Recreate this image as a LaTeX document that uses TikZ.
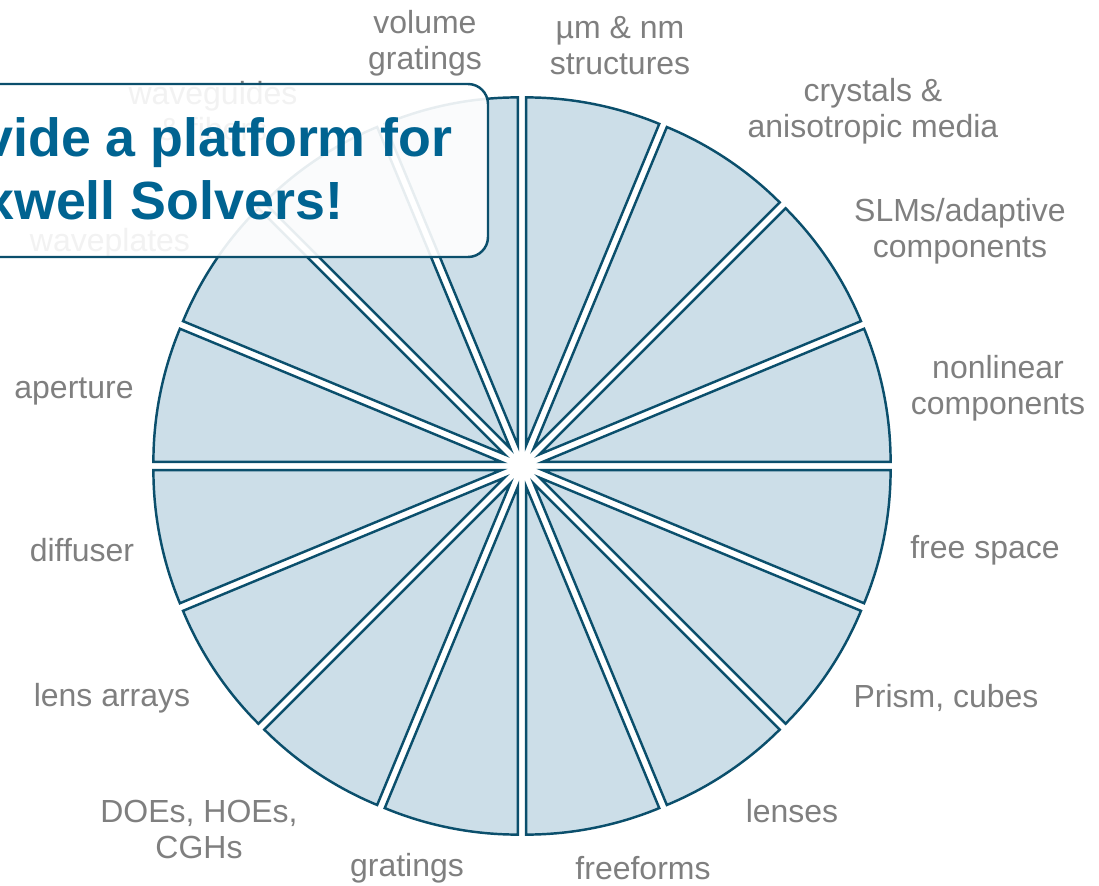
\documentclass[tikz,border=0pt]{standalone}
\usepackage{fontspec}
\setmainfont{Liberation Sans}
\usetikzlibrary{positioning,calc}
\definecolor{petrol}{HTML}{0B4F6C}
\definecolor{iceblue}{HTML}{CCDEE8}
\definecolor{labelgray}{HTML}{7F7F7F}
\definecolor{ocean}{HTML}{006391}
\tikzset{
  sector/.style={draw=petrol, fill=iceblue, line width=1.4pt},
  itemlabel/.style={
    font=\fontsize{18.2}{20.5}\selectfont, text=labelgray,
    align=center, inner sep=0pt
  },
  calloutbox/.style={
    rectangle, rounded corners=0.4cm, draw=petrol, line width=1.4pt,
    fill=white, fill opacity=0.9,
    minimum width=10.16cm, minimum height=3.46cm
  },
  callouttext/.style={
    font=\fontsize{30.6}{36}\selectfont\bfseries, text=ocean,
    inner sep=0pt, anchor=base west
  },
}

\begin{document}
\begin{tikzpicture}
\clip (-10.44,-8.38) rectangle (11.54,9.32);
\useasboundingbox (-10.44,-8.38) rectangle (11.54,9.32);
% exploded wheel, 16 sectors
\foreach \a in {0,22.5,...,337.5}{
  \pgfmathsetmacro\b{\a+11.25}
  \draw[sector] (\b:0.42) -- ++(\a:6.96)
    arc[start angle=\a, end angle=\a+22.5, radius=6.96] -- cycle;
}
% labels, counter-clockwise from the right
\node[itemlabel] (nonlin)   at (9.52,1.56)   {nonlinear\\components};
\node[itemlabel] (slm)      at (8.76,4.70)   {SLMs/adaptive\\components};
\node[itemlabel] (crystal)  at (7.02,7.10)   {crystals \&\\anisotropic media};
\node[itemlabel] (micro)    at (1.96,8.40)   {µm \& nm\\structures};
\node[itemlabel] (volgrat)  at (-1.94,8.46)  {volume\\gratings};
\node[itemlabel] (wguide)   at (-6.18,7.10)  {waveguides\\\& fibers};
\node[itemlabel] (wplate)   at (-8.24,4.46)  {waveplates};
\node[itemlabel] (aperture) at (-8.96,1.50)  {aperture};
\node[itemlabel] (diffuser) at (-8.80,-1.68) {diffuser};
\node[itemlabel] (lensarr)  at (-8.20,-4.64) {lens arrays};
\node[itemlabel] (doe)      at (-6.46,-7.26) {DOEs, HOEs,\\CGHs};
\node[itemlabel] (grating)  at (-2.30,-8.04) {gratings};
\node[itemlabel] (freeform) at (2.42,-8.04)  {freeforms};
\node[itemlabel] (lenses)   at (5.40,-6.90)  {lenses};
\node[itemlabel] (prism)    at (8.48,-4.64)  {Prism, cubes};
\node[itemlabel] (freesp)   at (9.26,-1.68)  {free space};
% callout on top
\node[calloutbox] (callout) at (-5.76,5.91) {};
\node[callouttext] (callA) at (-10.78,6.18) {vide a platform for};
\node[callouttext] (callB) at (-10.76,4.92) {xwell Solvers!};
\end{tikzpicture}
\end{document}
